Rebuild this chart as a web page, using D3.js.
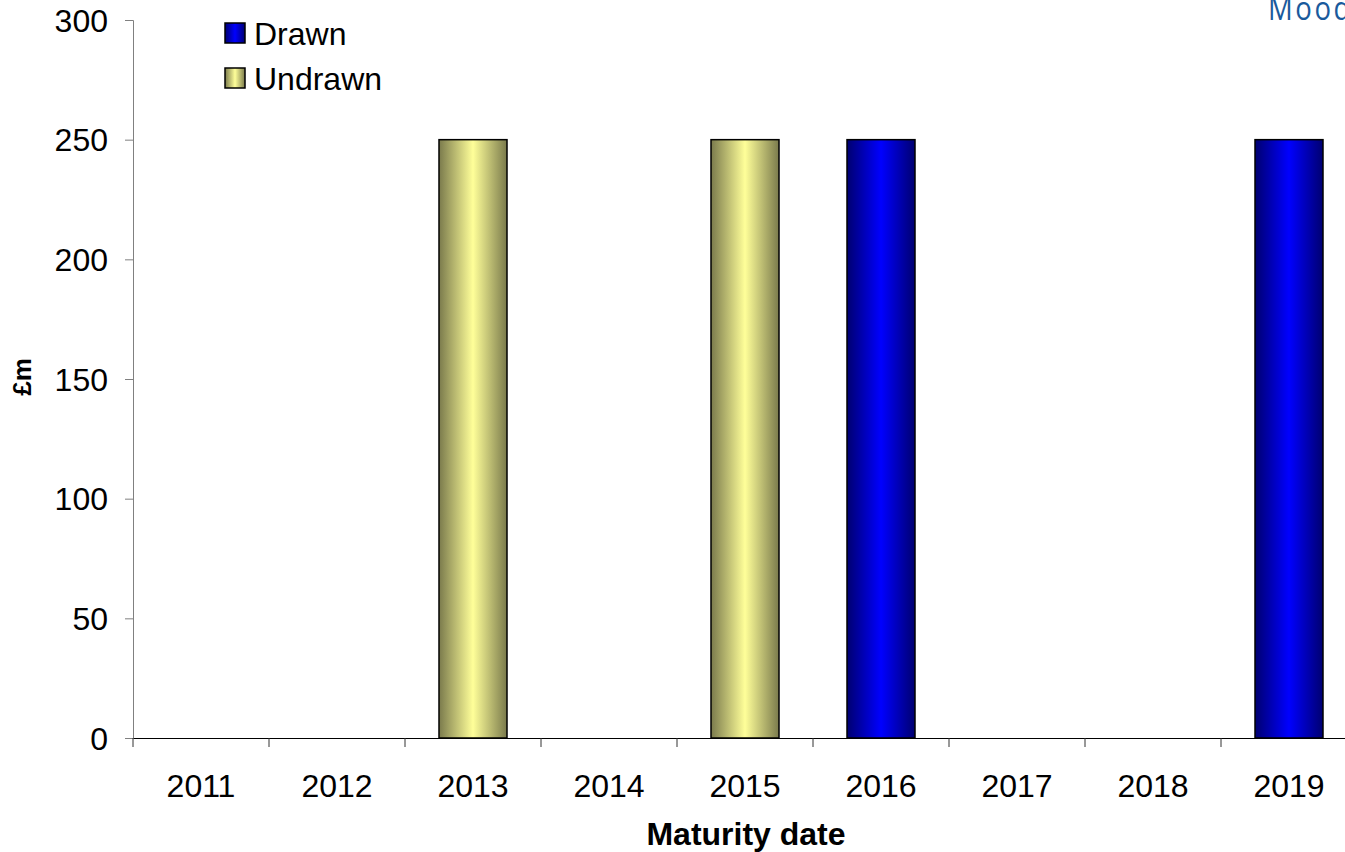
<!DOCTYPE html>
<html><head><meta charset="utf-8">
<script src="https://cdn.jsdelivr.net/npm/d3@7"></script>
<style>body{margin:0;background:#fff;overflow:hidden}svg{display:block}</style>
</head><body>
<svg id="c" width="1345" height="852"></svg>
<script>
const years = ["2011","2012","2013","2014","2015","2016","2017","2018","2019"];
const drawn = [0,0,0,0,0,250,0,0,250];
const undrawn = [0,0,250,0,250,0,0,0,0];
const yTicks = [0,50,100,150,200,250,300];
const seriesNames = ["Drawn","Undrawn"];

const svg = d3.select("#c");
const defs = svg.append("defs");
function grad(id, edge, mid){
  const g = defs.append("linearGradient").attr("id",id).attr("x1","0%").attr("x2","100%").attr("y1","0%").attr("y2","0%");
  g.append("stop").attr("offset","0%").attr("stop-color",edge);
  g.append("stop").attr("offset","50%").attr("stop-color",mid);
  g.append("stop").attr("offset","100%").attr("stop-color",edge);
}
grad("gBlue","#000070","#0000ff");
grad("gYel","#7a7a4c","#ffff99");

const x = d3.scaleBand().domain(years).range([133,1357]).paddingInner(0.5).paddingOuter(0.25);
const y = d3.scaleLinear().domain([0,300]).range([738,20]);
const font = "Liberation Sans, Arial, sans-serif";

// y axis
const ya = svg.append("g").attr("transform","translate(133,0)")
  .call(d3.axisLeft(y).tickValues(yTicks).tickSize(8).tickPadding(17));
ya.select(".domain").attr("stroke","#808080");
ya.selectAll(".tick line").attr("stroke","#808080");
ya.selectAll("text").attr("font-family",font).attr("font-size",32).attr("fill","#000").attr("dy","0.35em");

// x axis
const xa = svg.append("g").attr("transform","translate(0,738)")
  .call(d3.axisBottom(x).tickSize(0).tickPadding(36));
xa.select(".domain").attr("stroke","#000");
xa.selectAll("text").attr("font-family",font).attr("font-size",32).attr("fill","#000");
// category boundary ticks
svg.append("g").selectAll("line").data(years).join("line")
  .attr("x1",d=>x(d)-x.step()*0.25).attr("x2",d=>x(d)-x.step()*0.25)
  .attr("y1",738).attr("y2",747).attr("stroke","#333").attr("stroke-width",1);

// bars
const data = years.map((yr,i)=>({yr, drawn:drawn[i], undrawn:undrawn[i]}));
svg.append("g").selectAll("rect.u").data(data.filter(d=>d.undrawn>0)).join("rect")
  .attr("x",d=>x(d.yr)).attr("width",x.bandwidth())
  .attr("y",d=>y(d.undrawn)).attr("height",d=>y(0)-y(d.undrawn))
  .attr("fill","url(#gYel)").attr("stroke","#000").attr("stroke-width",1.5);
svg.append("g").selectAll("rect.d").data(data.filter(d=>d.drawn>0)).join("rect")
  .attr("x",d=>x(d.yr)).attr("width",x.bandwidth())
  .attr("y",d=>y(d.drawn)).attr("height",d=>y(0)-y(d.drawn))
  .attr("fill","url(#gBlue)").attr("stroke","#000").attr("stroke-width",1.5);

// axis titles
svg.append("text").attr("x",746).attr("y",845).attr("text-anchor","middle")
  .attr("font-family",font).attr("font-size",32).attr("font-weight","bold").text("Maturity date");
svg.append("text").attr("transform","translate(31,377) rotate(-90)").attr("text-anchor","middle")
  .attr("font-family",font).attr("font-size",26).attr("font-weight","bold").text("£m");

// legend
const leg = svg.append("g");
const fills = ["url(#gBlue)","url(#gYel)"];
seriesNames.forEach((n,i)=>{
  const g = leg.append("g").attr("transform",`translate(225,${23+i*45})`);
  g.append("rect").attr("width",20).attr("height",20).attr("fill",fills[i]).attr("stroke","#000").attr("stroke-width",1.5);
  g.append("text").attr("x",29).attr("y",10).attr("dy","0.36em").attr("font-family",font).attr("font-size",32).text(n);
});

// watermark (clipped at right edge, as in the reference)
svg.append("text").attr("transform","translate(1268,20) scale(0.86,1)").attr("font-family","Open Sans, sans-serif")
  .attr("font-size",32).attr("letter-spacing",3).attr("fill","#1a5a9c").text("Moody's");
</script>
</body></html>
